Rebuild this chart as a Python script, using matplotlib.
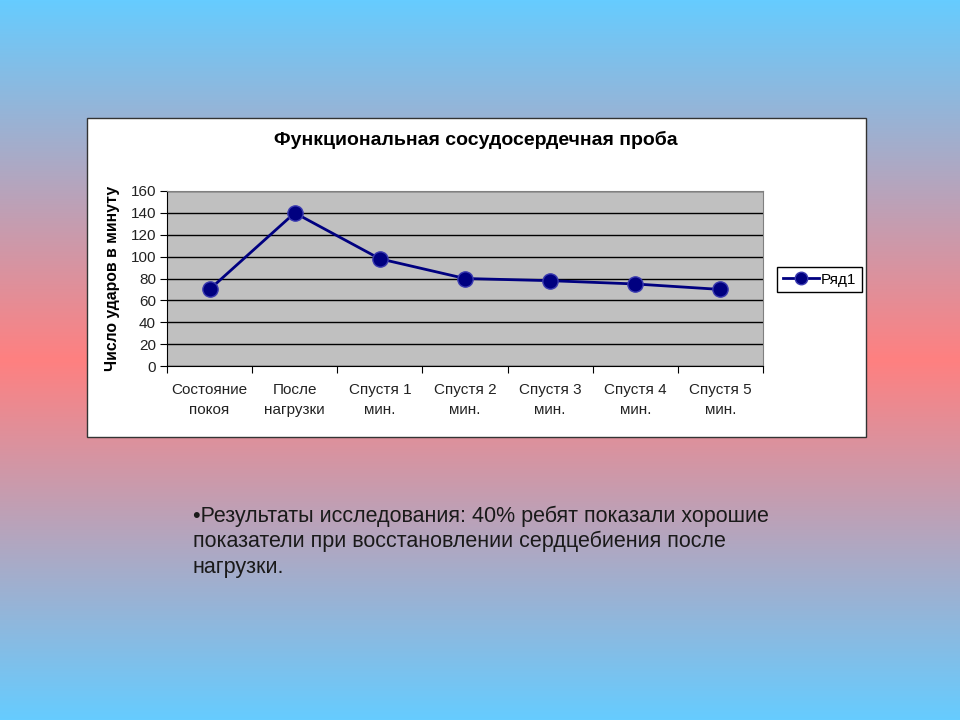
import numpy as np
import matplotlib
matplotlib.use("Agg")
import matplotlib.pyplot as plt
from matplotlib.patches import Rectangle
from matplotlib.lines import Line2D

categories = ["Состояние\nпокоя", "После\nнагрузки", "Спустя 1\nмин.", "Спустя 2\nмин.",
              "Спустя 3\nмин.", "Спустя 4\nмин.", "Спустя 5\nмин."]
values = [70, 140, 98, 80, 78, 75, 70]
yticks = [0, 20, 40, 60, 80, 100, 120, 140, 160]
series_name = "Ряд1"
title = "Функциональная сосудосердечная проба"
ylabel = "Число ударов в минуту"
note_lines = ["•Результаты исследования: 40% ребят показали хорошие",
              "показатели при восстановлении сердцебиения после",
              "нагрузки."]

plt.rcParams['font.family'] = ['Liberation Sans', 'DejaVu Sans']

W, H = 960, 720
fig = plt.figure(figsize=(W / 100, H / 100), dpi=100)

# background gradient
bg = fig.add_axes([0, 0, 1, 1], zorder=-10)
t = np.linspace(0, 1, 720)
top = np.array([102, 204, 255]) / 255
mid = np.array([255, 128, 128]) / 255
w = 1 - np.abs(t - 0.5) * 2
cols = top[None, :] * (1 - w[:, None]) + mid[None, :] * w[:, None]
img = np.repeat(cols[:, None, :], 2, axis=1)
bg.imshow(img, aspect='auto', extent=[0, 1, 0, 1], origin='upper')
bg.set_axis_off()

def fx(px):
    return px / W

def fy(py):
    return 1 - py / H

# chart box
fig.patches.append(Rectangle((fx(87), fy(437)), fx(866) - fx(87), fy(118) - fy(437),
                             transform=fig.transFigure, facecolor='white',
                             edgecolor='#333333', linewidth=1, zorder=-5))

ax = fig.add_axes([fx(167), fy(366), fx(763) - fx(167), fy(191) - fy(366)])
ax.set_facecolor('#C0C0C0')
x = np.arange(len(values))
ax.plot(x, values, color='#000080', linewidth=2, marker='o', markersize=11,
        markerfacecolor='#000080', markeredgecolor='#3a3ab0', zorder=5, clip_on=False)
ax.set_xlim(-0.5, len(values) - 0.5)
ax.set_ylim(0, 160)
ax.set_yticks(yticks)
ax.yaxis.grid(True, color='black', linewidth=1)
ax.set_axisbelow(True)
ax.set_xticks(np.arange(-0.5, len(values)), labels=[])
ax.set_xticks(x, labels=categories, minor=True)
ax.tick_params(axis='x', which='major', length=5, direction='out', color='black')
ax.tick_params(axis='x', which='minor', length=0, pad=12, labelsize=11, labelcolor='#222222')
ax.tick_params(axis='y', length=5, direction='out', labelsize=11, pad=3, labelcolor='#222222')
for lab in ax.get_xticklabels(minor=True):
    lab.set_linespacing(1.6)
for s in ['top', 'right']:
    ax.spines[s].set_color('#808080')
for s in ['left', 'bottom']:
    ax.spines[s].set_color('black')

fig.text(fx(476), fy(140), title, ha='center', va='center', fontsize=14,
         fontweight='bold', color='black')
fig.text(fx(113), fy(278), ylabel, ha='center', va='center', rotation=90,
         fontsize=11.3, fontweight='bold', color='black')

handle = Line2D([], [], color='#000080', linewidth=2, marker='o', markersize=9,
                markerfacecolor='#000080', markeredgecolor='#3a3ab0')
leg = fig.legend([handle], [series_name], loc='center',
                 bbox_to_anchor=(fx(819.5), fy(279.5)), frameon=True, fancybox=False,
                 framealpha=1, edgecolor='black', fontsize=11, handlelength=2.4,
                 handletextpad=0.1, borderpad=0.35, borderaxespad=0)
leg.get_frame().set_linewidth(1)

for i, line in enumerate(note_lines):
    fig.text(fx(193), fy(516 + 25.5 * i), line, ha='left', va='center', fontsize=15.5,
             color='#1a1a1a')

fig.savefig('out.png', dpi=100)
